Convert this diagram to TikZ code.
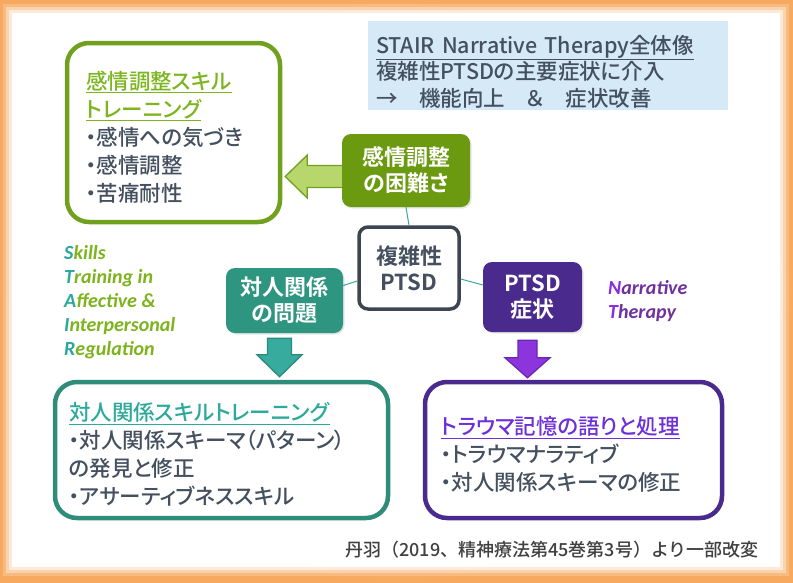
\documentclass[tikz,border=0pt]{standalone}
\usepackage{fontspec}
\usepackage{xcolor}
\usepackage{tikz}
\usetikzlibrary{positioning, calc, shadows}
\newfontfamily\jp[RawFeature=+palt, UprightFont={* Medium}, BoldFont={* Bold}]{Noto Sans CJK JP}
\newfontfamily\jpfull[UprightFont={* Medium}]{Noto Sans CJK JP}
\newfontfamily\carl{Carlito}
\definecolor{orangeout}{HTML}{F7AA5F}
\definecolor{orangein}{HTML}{FFE4C4}
\definecolor{blueback}{HTML}{D6E9F6}
\definecolor{bodytxt}{HTML}{44505F}
\definecolor{gborder}{HTML}{70A01E}
\definecolor{gtitle}{HTML}{7CB51E}
\definecolor{gdark}{HTML}{6B9A10}
\definecolor{garrfill}{HTML}{B7D66B}
\definecolor{tfill}{HTML}{2E9581}
\definecolor{tarr}{HTML}{37AB9E}
\definecolor{tarrdraw}{HTML}{2A8A7E}
\definecolor{tborder}{HTML}{2E8C79}
\definecolor{ttitle}{HTML}{2BAA9B}
\definecolor{pfill}{HTML}{4B2A8D}
\definecolor{parr}{HTML}{8C35DC}
\definecolor{parrdraw}{HTML}{6B25B5}
\definecolor{ptitle}{HTML}{6D2FD8}
\definecolor{linkteal}{HTML}{3CA89C}
\definecolor{fborder}{HTML}{3D4650}
\definecolor{steal}{HTML}{2BA89A}
\definecolor{sgreen}{HTML}{7DB31C}
\definecolor{nviolet}{HTML}{8A2BE2}
\definecolor{npurple}{HTML}{7030A0}
\definecolor{footer}{HTML}{404040}

\begin{document}
\begin{tikzpicture}[x=1pt, y=-1pt,
    every node/.style={font=\jp},
    bigbox/.style={draw, fill=white, line width=4.5pt, rounded corners=22pt, inner sep=0pt,
      align=left, minimum height=136pt, text=bodytxt, font=\jp\fontsize{21.5}{28}\selectfont,
      execute at begin node={\rule{0pt}{27pt}},
      drop shadow={shadow xshift=1.5pt, shadow yshift=-1.5pt, opacity=0.2}},
    smallbox/.style={rounded corners=9pt, inner sep=0pt, align=center, text=white,
      font=\jp\bfseries\fontsize{22}{26}\selectfont,
      drop shadow={shadow xshift=1.5pt, shadow yshift=-1.5pt, opacity=0.2}},
    link/.style={draw=linkteal, line width=1pt},
    blockarrow/.style={line width=1.3pt, line join=miter},
    note/.style={font=\carl\bfseries\itshape\fontsize{20}{24}\selectfont, align=left, inner sep=0pt}]

  \useasboundingbox (0,0) rectangle (793,582);
  \shade[inner color=orangein, outer color=orangeout] (0,0) rectangle (793,582);
  \foreach \d/\o in {9/0.2, 6/0.35, 3/0.55}
    \fill[white, opacity=\o] (12-\d,13-\d) rectangle (780+\d,567+\d);
  \fill[white] (12,13) rectangle (780,567);

  \node[fill=blueback, minimum width=360pt, minimum height=89pt, inner sep=0pt, text width=344pt,
    align=left, text=bodytxt, font=\jp\fontsize{21.5}{26.5}\selectfont] (overview) at (548,65.5)
    {\rule{0pt}{30pt}\underline{STAIR Narrative Therapy全体像}\\複雑性PTSDの主要症状に介入\\→　機能向上　＆　症状改善};

  \node[bigbox, draw=gborder, minimum width=213pt, minimum height=179pt, text width=175pt] (emoskill) at (173.5,132.5)
    {{\color{gtitle}\underline{感情調整スキル}}\\{\color{gtitle}\underline{トレーニング}}\\・感情への気づき\\・感情調整\\・苦痛耐性};
  \node[bigbox, draw=tborder, minimum width=333pt, text width=305pt] (relskill) at (221.5,450)
    {{\color{ttitle}\underline{対人関係スキルトレーニング}}\\・対人関係スキーマ（パターン）\\の発見と修正\\・アサーティブネススキル};
  \node[bigbox, draw=pfill, minimum width=297pt, text width=265pt] (trauma) at (573.5,450)
    {{\color{ptitle}\underline{トラウマ記憶の語りと処理}}\\・トラウマナラティブ\\・対人関係スキーマの修正};

  \node[smallbox, fill=gdark, minimum width=128pt, minimum height=73pt] (emodiff) at (406,170.5) {感情調整\\の困難さ};
  \node[smallbox, draw=fborder, line width=3.5pt, fill=white, text=bodytxt, minimum width=100pt, minimum height=82pt] (cptsd) at (409,268) {複雑性\\PTSD};
  \node[smallbox, fill=tfill, minimum width=117pt, minimum height=65pt] (relprob) at (284.5,300.5) {対人関係\\の問題};
  \node[smallbox, fill=pfill, minimum width=99pt, minimum height=70pt] (symptom) at (532.5,297) {PTSD\\症状};

  \draw[link] (emodiff.south) -- (cptsd.north);
  \draw[link] ([yshift=-13pt]cptsd.west) -- ([yshift=15pt]relprob.east);
  \draw[link] ([yshift=-11pt]cptsd.east) -- ([yshift=12pt]symptom.west);

  \coordinate (ga) at ([yshift=-6pt]emodiff.west);
  \coordinate (gt) at ($(emoskill.east |- ga)+(3,0)$);
  \draw[blockarrow, draw=gborder, fill=garrfill] ($(ga)+(0,-11)$) -- ($(gt)+(22,-11)$) -- ($(gt)+(22,-21.5)$)
    -- (gt) -- ($(gt)+(22,21.5)$) -- ($(gt)+(22,11)$) -- ($(ga)+(0,11)$);

  \coordinate (ta) at ($(relprob.south)+(-5,5)$);
  \coordinate (tt) at ($(relskill.north -| ta)+(0,-3)$);
  \filldraw[blockarrow, draw=tarrdraw, fill=tarr] ($(ta)+(-12,0)$) -- ($(tt)+(-12,-22)$) -- ($(tt)+(-22.5,-22)$)
    -- (tt) -- ($(tt)+(22.5,-22)$) -- ($(tt)+(12,-22)$) -- ($(ta)+(12,0)$) -- cycle;

  \coordinate (pa) at ($(symptom.south)+(-5,8)$);
  \coordinate (pt) at ($(trauma.north -| pa)+(0,-2)$);
  \filldraw[blockarrow, draw=parrdraw, fill=parr] ($(pa)+(-9.5,0)$) -- ($(pt)+(-9.5,-20)$) -- ($(pt)+(-22.5,-20)$)
    -- (pt) -- ($(pt)+(22.5,-20)$) -- ($(pt)+(9.5,-20)$) -- ($(pa)+(9.5,0)$) -- cycle;

  \node[note, anchor=north west, text=sgreen] (strair) at (64,245)
    {{\color{steal}S}kills\\{\color{steal}T}raining in\\{\color{steal}A}ffective \&\\{\color{steal}I}nterpersonal\\{\color{steal}R}egulation};
  \node[note, anchor=north west, text=npurple] (narrative) at (608,280)
    {{\color{nviolet}N}arrative\\{\color{nviolet}T}herapy};

  \node[anchor=east, inner sep=0pt, text=footer, font=\jpfull\fontsize{18}{20}\selectfont] (source) at (759,550)
    {丹羽（2019、精神療法第45巻第3号）より一部改変};
\end{tikzpicture}
\end{document}
